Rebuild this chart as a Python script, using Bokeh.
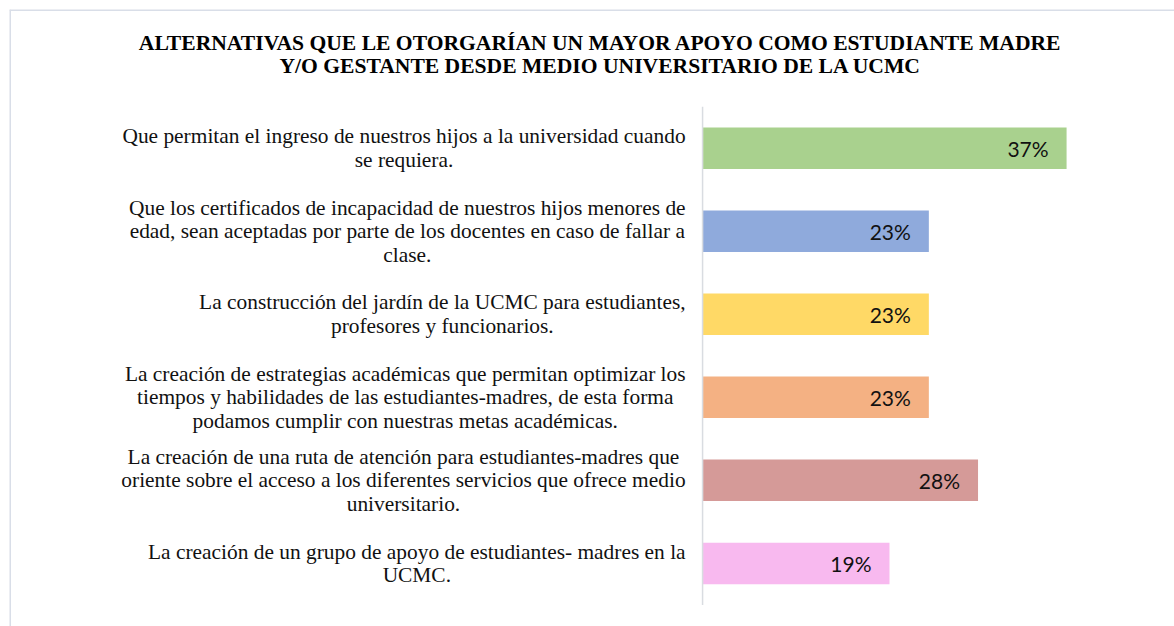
from bokeh.plotting import figure
from bokeh.models import ColumnDataSource, Range1d, CustomJSTransform, Span
from bokeh.core.properties import value
from bokeh.embed import file_html
from bokeh.resources import INLINE

# ---- data ----
title_lines = [
    "ALTERNATIVAS QUE LE OTORGARÍAN UN MAYOR APOYO COMO ESTUDIANTE MADRE",
    "Y/O GESTANTE DESDE MEDIO UNIVERSITARIO DE LA UCMC",
]
categories = [
    "Que permitan el ingreso de nuestros hijos a la universidad cuando\nse requiera.",
    "Que los certificados de incapacidad de nuestros hijos menores de\nedad, sean aceptadas por parte de los docentes en caso de fallar a\nclase.",
    "La construcción del jardín de la UCMC para estudiantes,\nprofesores y funcionarios.",
    "La creación de estrategias académicas que permitan optimizar los\ntiempos y habilidades de las estudiantes-madres, de esta forma\npodamos cumplir con nuestras metas académicas.",
    "La creación de una ruta de atención para estudiantes-madres que\noriente sobre el acceso a los diferentes servicios que ofrece medio\nuniversitario.",
    "La creación de un grupo de apoyo de estudiantes- madres en la\nUCMC.",
]
values = [0.37, 0.23, 0.23, 0.23, 0.28, 0.19]
value_labels = ["37%", "23%", "23%", "23%", "28%", "19%"]
colors = ["#A9D18E", "#8FAADC", "#FFD966", "#F4B183", "#D59A98", "#F8B9EF"]

n = len(categories)
ypos = [n - 1 - i for i in range(n)]

src = ColumnDataSource(dict(y=ypos, label=categories, v=values, vl=value_labels, c=colors))

xr = Range1d(-0.7045, 0.4797)
yr = Range1d(-0.760, 6.671)
p = figure(
    width=1174, height=626, title=None,
    x_range=xr, y_range=yr,
    x_axis_location=None, y_axis_location=None,
    toolbar_location=None, output_backend="svg",
    min_border_left=9, min_border_top=9, min_border_right=0, min_border_bottom=0,
)
p.xgrid.visible = False
p.ygrid.visible = False
p.outline_line_color = None
p.background_fill_color = "white"
p.border_fill_color = "white"

# chart-area border (top and left edges visible in the reference)
p.add_layout(Span(location=xr.start, dimension="height", line_color="#D9DEE8", line_width=3))
p.add_layout(Span(location=yr.end, dimension="width", line_color="#D9DEE8", line_width=3))

# bars
p.hbar(y="y", left=0, right="v", height=0.5, fill_color="c", line_color=None, source=src)

# vertical category axis line
p.segment(x0=[0], y0=[min(ypos) - 0.5], x1=[0], y1=[max(ypos) + 0.5],
          line_color="#D9DCE1", line_width=1.5)

# value labels
p.text(x="v", y="y", text="vl", source=src, x_offset=-18,
       text_align="right", text_baseline="middle",
       text_font=value("Lato"), text_font_size="21px", text_color="#111111")

# category labels: lines centred, widest line ends 17px left of the axis
offset_tf = CustomJSTransform(v_func="""
const c = document.createElement('canvas').getContext('2d');
c.font = '21.4px "Liberation Serif"';
const out = [];
for (const t of xs) {
  const w = Math.max(...String(t).split('\\n').map(s => c.measureText(s).width));
  out.push(-17 - w / 2);
}
return out;
""")
p.text(x=0, y="y", text="label", source=src,
       x_offset=dict(field="label", transform=offset_tf),
       text_align="center", text_baseline="middle", text_line_height=0.99,
       text_font=value("Liberation Serif"), text_font_size="21.4px", text_color="#111111")

# title
p.text(x=[-0.104], y=[6.134], text=["\n".join(title_lines)],
       text_align="center", text_baseline="middle", text_line_height=0.96,
       text_font=value("Liberation Serif"), text_font_style="bold",
       text_font_size="21.6px", text_color="#000000")

open("out.html", "w").write(file_html(p, INLINE))
